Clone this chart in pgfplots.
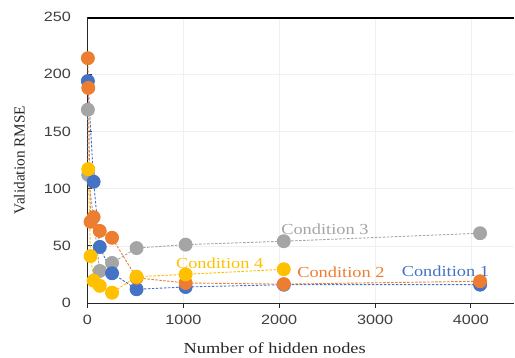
\documentclass[border=0pt]{standalone}
\usepackage{fontspec}
\setmainfont{Liberation Serif}
\newfontfamily\serifwide[FakeStretch=1.2]{Liberation Serif}
\newfontfamily\sanswide[FakeStretch=1.2]{Liberation Sans}
\usepackage{pgfplots}
\pgfplotsset{compat=1.18}
\definecolor{cblue}{HTML}{4472C4}
\definecolor{corange}{HTML}{ED7D31}
\definecolor{cgray}{HTML}{A5A5A5}
\definecolor{cyellow}{HTML}{FFC000}
\pgfplotsset{
  cond/.style={color=#1, line width=0.9bp, dash pattern=on 2.5bp off 1.5bp,
    mark=*, mark size=6.5bp, mark options={solid, fill=#1, draw=none}},
}
\begin{document}
\begin{tikzpicture}
\begin{axis}[name=ax, scale only axis, width=426.5bp, height=286bp,
  xmin=0, xmax=4450, ymin=0, ymax=250,
  axis x line*=bottom, axis y line*=left,
  axis line style={black!85, line width=0.9bp},
  xtick={0,1000,2000,3000,4000}, ytick={0,50,100,150,200,250},
  xtick align=outside, ytick align=inside,
  major tick length=5bp,
  tick style={black!85, line width=0.8bp},
  /pgf/number format/assume math mode=true,
  /pgf/number format/1000 sep={},
  tick label style={font=\sanswide\fontsize{13.5bp}{16bp}\selectfont, text=black!75},
  yticklabel style={xshift=-13bp},
  xticklabel style={yshift=-4bp},
  grid=major, major grid style={black!6, line width=0.5bp},
  clip=false,
]
\addplot[cond=cgray] coordinates {(4,169) (8,112) (128,28) (256,35) (512,48) (1024,51) (2048,54) (4096,61)};
\addplot[cond=cblue] coordinates {(4,194) (64,106) (128,49) (256,26) (512,12) (1024,14) (2048,16) (4096,16)};
\addplot[cond=corange] coordinates {(4,214) (8,188) (32,71) (64,75) (128,63) (256,57) (512,22) (1024,17.5) (2048,16.5) (4096,19)};
\addplot[cond=cyellow] coordinates {(8,117) (32,41) (64,19.5) (128,15) (256,9) (512,23) (1024,25) (2048,29.5)};
\node[font=\serifwide\fontsize{15.3bp}{18bp}\selectfont, text=cgray] at (axis cs:2477,64.7) {Condition 3};
\node[font=\serifwide\fontsize{15.3bp}{18bp}\selectfont, text=cyellow] at (axis cs:1379,34.7) {Condition 4};
\node[font=\serifwide\fontsize{15.3bp}{18bp}\selectfont, text=corange] at (axis cs:2644,26.5) {Condition 2};
\node[font=\serifwide\fontsize{15.3bp}{18bp}\selectfont, text=cblue] at (axis cs:3734,28) {Condition 1};
\end{axis}
\draw[black, line width=1.5bp] ([yshift=-1bp]ax.north west) -- ([yshift=-1bp]ax.north east);
\node[font=\serifwide\fontsize{15.3bp}{18bp}\selectfont, text=black!85] at ([shift={(-26bp,-45bp)}]ax.south) {Number of hidden nodes};
\node[rotate=90, font=\fontsize{15.3bp}{18bp}\selectfont, text=black!85] at ([xshift=-68bp]ax.west) {Validation RMSE};
\pgfresetboundingbox
\useasboundingbox ([shift={(-87.5bp,-55bp)}]ax.south west) rectangle ([shift={(1bp,17bp)}]ax.north east);
\end{tikzpicture}
\end{document}
